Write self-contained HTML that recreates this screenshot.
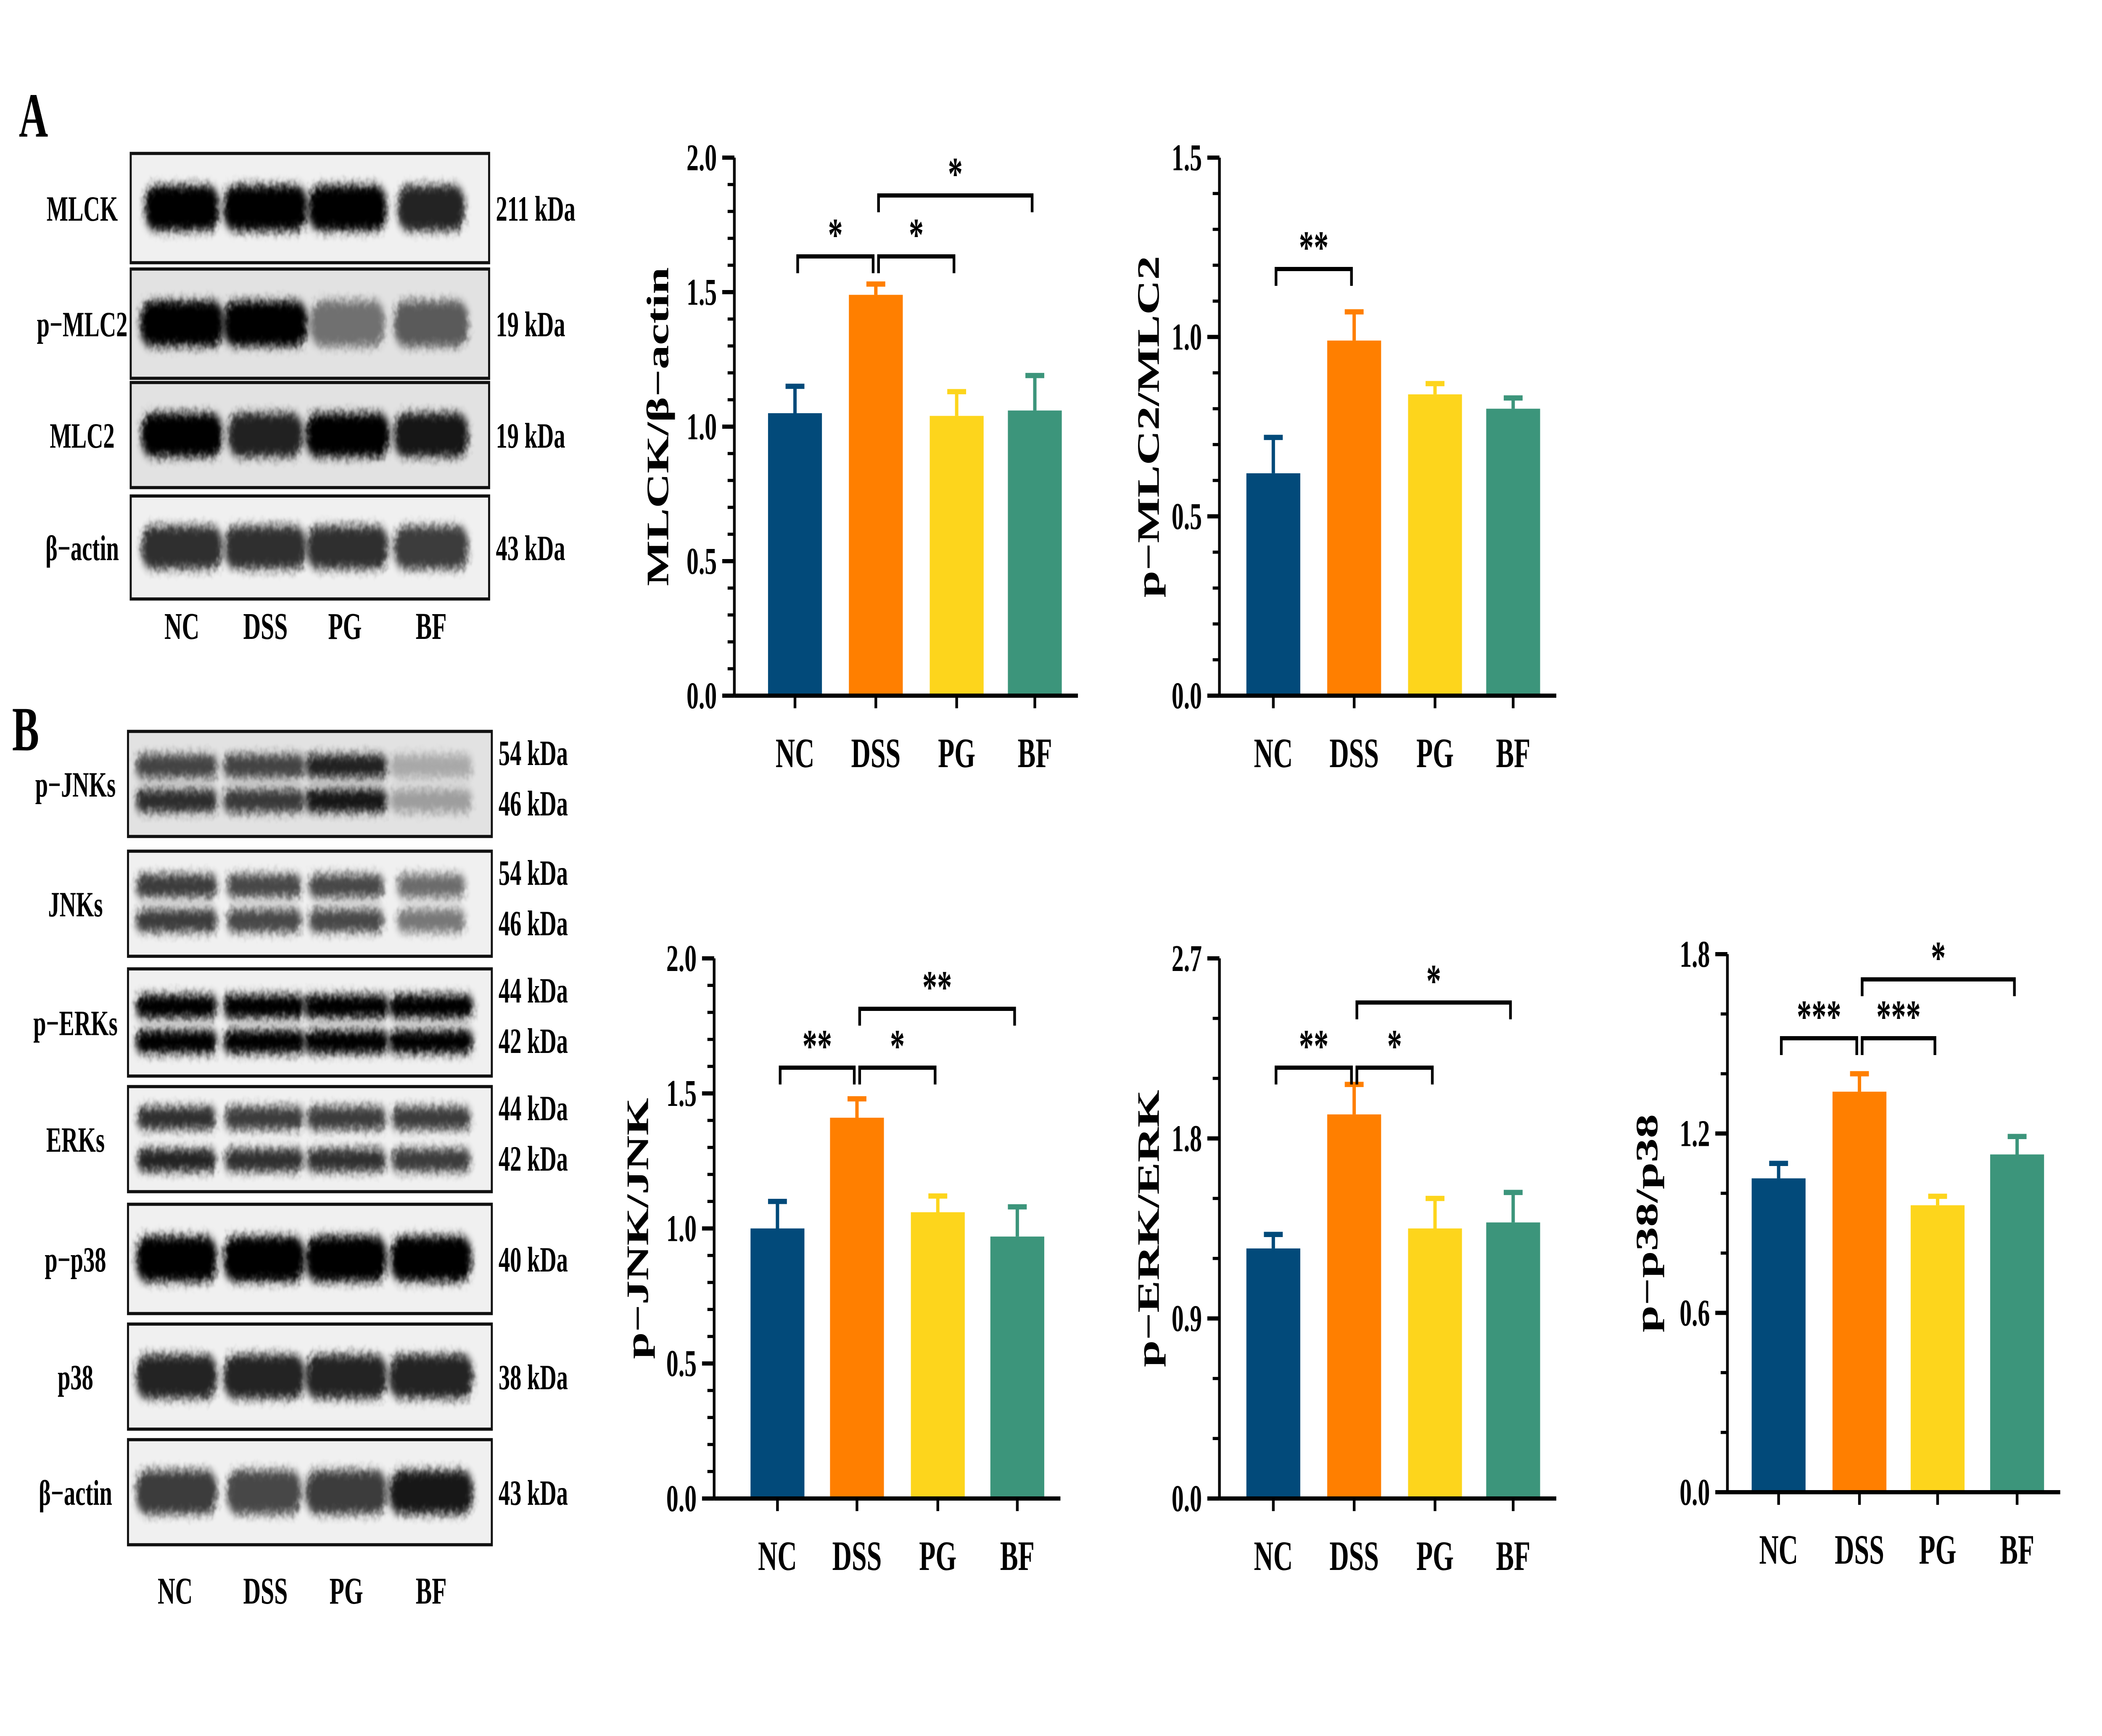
<!DOCTYPE html>
<html><head><meta charset="utf-8"><style>
html,body{margin:0;padding:0;background:#fff;width:100%;height:100%;overflow:hidden;}
svg{display:block;position:absolute;left:0;top:0;width:100vw;height:100vh;}
text{font-family:"Liberation Serif",serif;font-weight:bold;fill:#000;}
</style></head><body>
<svg id="fig" xmlns="http://www.w3.org/2000/svg" viewBox="0 0 1560 826" preserveAspectRatio="none">
<defs><filter id="blur" x="-20%" y="-50%" width="140%" height="200%"><feTurbulence type="fractalNoise" baseFrequency="0.3" numOctaves="2" result="n"/><feGaussianBlur in="SourceGraphic" stdDeviation="2.2" result="b"/><feDisplacementMap in="b" in2="n" scale="4"/></filter></defs>
<text x="14" y="65" font-size="30">A</text>
<text x="9" y="357" font-size="30">B</text>
<g id="blots"></g>
<g id="charts"></g>
</svg>
<script>
const categories = ["NC","DSS","PG","BF"];
const colors = ["#024a7a","#ff7f00","#fdd51c","#3c957b"];
const mlckVals = [1.05,1.49,1.04,1.06];
const mlckErr = [0.10,0.04,0.09,0.13];
const pmlcVals = [0.62,0.99,0.84,0.80];
const pmlcErr = [0.10,0.08,0.03,0.03];
const jnkVals = [1.00,1.41,1.06,0.97];
const jnkErr = [0.10,0.07,0.06,0.11];
const erkVals = [1.25,1.92,1.35,1.38];
const erkErr = [0.07,0.15,0.15,0.15];
const p38Vals = [1.05,1.34,0.96,1.13];
const p38Err = [0.05,0.06,0.03,0.06];
const mlckTicks = [0,0.5,1.0,1.5,2.0];
const pmlcTicks = [0,0.5,1.0,1.5];
const jnkTicks = [0,0.5,1.0,1.5,2.0];
const erkTicks = [0,0.9,1.8,2.7];
const p38Ticks = [0,0.6,1.2,1.8];
const NS="http://www.w3.org/2000/svg";
function mk(tag,attrs,parent,txt){const e=document.createElementNS(NS,tag);for(const k in attrs)e.setAttribute(k,attrs[k]);if(txt!==undefined)e.textContent=txt;parent.appendChild(e);return e;}

const charts=[
 {id:"mlck",label:"MLCK/β−actin",vals:mlckVals,err:mlckErr,ticks:mlckTicks,dec:1,ax:545,y0:331,y1:75,xs:[590,650,710,768],minor:5,
  sig:[[0,1,122,"*"],[1,2,122,"*"],[1,3,93,"*"]],lx:488},
 {id:"pmlc2",label:"p−MLC2/MLC2",vals:pmlcVals,err:pmlcErr,ticks:pmlcTicks,dec:1,ax:905,y0:331,y1:75,xs:[945,1005,1065,1123],minor:5,
  sig:[[0,1,128,"**"]],lx:852},
 {id:"jnk",label:"p−JNK/JNK",vals:jnkVals,err:jnkErr,ticks:jnkTicks,dec:1,ax:530,y0:713,y1:456,xs:[577,636,696,755],minor:5,
  sig:[[0,1,508,"**"],[1,2,508,"*"],[1,3,480,"**"]],lx:473},
 {id:"erk",label:"p−ERK/ERK",vals:erkVals,err:erkErr,ticks:erkTicks,dec:1,ax:905,y0:713,y1:456,xs:[945,1005,1065,1123],minor:3,
  sig:[[0,1,508,"**"],[1,2,508,"*"],[1,3,477,"*"]],lx:852},
 {id:"p38",label:"p−p38/p38",vals:p38Vals,err:p38Err,ticks:p38Ticks,dec:1,ax:1282,y0:710,y1:454,xs:[1320,1380,1438,1497],minor:3,
  sig:[[0,1,494,"***"],[1,2,494,"***"],[1,3,466,"*"]],lx:1222}
];
const cg=document.getElementById("charts");
charts.forEach(c=>{
 const g=mk("g",{},cg);
 
 
 const max=c.ticks[c.ticks.length-1];
 const Y=v=>c.y0-(v/max)*(c.y0-c.y1);
 const bw=40;
 const xEnd=c.xs[3]+bw/2+12;
 c.vals.forEach((v,i)=>{
  const x=c.xs[i];
  const eb=mk("g",{},g);
  
  
  mk("line",{x1:x,x2:x,y1:Y(v),y2:Y(v+c.err[i]),stroke:colors[i],"stroke-width":2.5},eb);
  mk("line",{x1:x-7,x2:x+7,y1:Y(v+c.err[i]),y2:Y(v+c.err[i]),stroke:colors[i],"stroke-width":2.5},eb);
  const r=mk("rect",{x:x-bw/2,y:Y(v),width:bw,height:c.y0-Y(v),fill:colors[i]},g);
  
  
  const t=mk("text",{x:x,y:c.y0+34,"font-size":20,"text-anchor":"middle"},g,categories[i]);
  
  
 });
 const axg=mk("g",{},g);
 
 
 mk("line",{x1:c.ax,x2:c.ax,y1:c.y0,y2:c.y1,stroke:"#000","stroke-width":2},axg);
 const xa=mk("line",{x1:c.ax,x2:xEnd,y1:c.y0,y2:c.y0,stroke:"#000","stroke-width":2},g);
 
 
 c.xs.forEach(x=>mk("line",{x1:x,x2:x,y1:c.y0,y2:c.y0+6,stroke:"#000","stroke-width":2},g));
 c.ticks.forEach((t,i)=>{
  mk("line",{x1:c.ax-9,x2:c.ax,y1:Y(t),y2:Y(t),stroke:"#000","stroke-width":2},axg);
  const tl=mk("text",{x:c.ax-13,y:Y(t)+6,"font-size":18,"text-anchor":"end"},axg,t.toFixed(c.dec));
  
  
  if(i<c.ticks.length-1){
   const step=(c.ticks[i+1]-t)/c.minor;
   for(let k=1;k<c.minor;k++)mk("line",{x1:c.ax-5,x2:c.ax,y1:Y(t+k*step),y2:Y(t+k*step),stroke:"#000","stroke-width":1.5},axg);
  }
 });
 const yl=mk("text",{x:0,y:0,"font-size":23,"text-anchor":"middle",transform:"translate("+(c.lx+8)+","+((c.y0+c.y1)/2)+") rotate(-90)"},g,c.label);
 
 
 c.sig.forEach(s=>{
  const sg=mk("g",{},g);
  
  
  const a=c.xs[s[0]]+2,b=c.xs[s[1]]-2,y=s[2];
  mk("path",{d:"M"+a+" "+(y+8)+"V"+y+"H"+b+"V"+(y+8),fill:"none",stroke:"#000","stroke-width":2},sg);
  mk("text",{x:(a+b)/2,y:y-3,"font-size":22,"text-anchor":"middle"},sg,s[3]);
 });
});

const bg=document.getElementById("blots");
const blotsA=[
 {name:"MLCK",kda:["211 kDa"],y:73,h:52,bands:[[0.5,1,1.05,1,0.85]],w:[55,62,58,50]},
 {name:"p−MLC2",kda:["19 kDa"],y:128,h:52,bands:[[0.5,1,1,0.5,0.6]],w:[62,62,55,55],bg:1},
 {name:"MLC2",kda:["19 kDa"],y:182,h:50,bands:[[0.5,1,0.85,1.1,0.9]],w:[60,55,62,55],bg:1},
 {name:"β−actin",kda:["43 kDa"],y:236,h:49,bands:[[0.5,0.8,0.8,0.8,0.75]],w:[60,60,60,55]}
];
const blotsB=[
 {name:"p−JNKs",kda:["54 kDa","46 kDa"],y:348,h:50,bands:[[0.33,0.7,0.7,0.85,0.25],[0.66,0.8,0.75,0.9,0.3]],w:[60,60,60,60],bg:1},
 {name:"JNKs",kda:["54 kDa","46 kDa"],y:405,h:50,bands:[[0.33,0.75,0.7,0.7,0.55],[0.66,0.75,0.7,0.7,0.5]],w:[60,55,55,50]},
 {name:"p−ERKs",kda:["44 kDa","42 kDa"],y:461,h:51,bands:[[0.35,1,1,1,1],[0.68,1,1,1,1]],w:[60,60,62,62]},
 {name:"ERKs",kda:["44 kDa","42 kDa"],y:517,h:50,bands:[[0.3,0.8,0.75,0.75,0.75],[0.7,0.85,0.8,0.8,0.75]],w:[58,58,58,58]},
 {name:"p−p38",kda:["40 kDa"],y:573,h:52,bands:[[0.5,1,1,1,1]],w:[60,60,60,60]},
 {name:"p38",kda:["38 kDa"],y:630,h:50,bands:[[0.5,0.85,0.85,0.85,0.85]],w:[60,60,60,62]},
 {name:"β−actin",kda:["43 kDa"],y:685,h:50,bands:[[0.5,0.75,0.7,0.75,0.9]],w:[60,55,60,62]}
];
function drawBlots(list,x0,x1,lanes,labX){
 list.forEach(b=>{
  const g=mk("g",{},bg);
  
  
  mk("rect",{x:x0,y:b.y,width:x1-x0,height:b.h,fill:b.bg?"#e2e2e2":"#f0f0f0",stroke:"#111","stroke-width":1.5},g);
  const nb=b.bands.length;
  b.bands.forEach(bd=>{
   const cy=b.y+b.h*bd[0];
   const bh=nb>1?b.h*0.22:b.h*0.42;
   lanes.forEach((lx,i)=>{
    const o=bd[i+1];
    mk("rect",{x:lx-b.w[i]/2,y:cy-bh/2,width:b.w[i],height:bh,rx:bh/2.5,fill:"#000",opacity:Math.min(1,o),filter:"url(#blur)"},g);
   });
  });
  const t=mk("text",{x:labX,y:b.y+b.h/2+6,"font-size":17,"text-anchor":"middle"},g,b.name);
  
  
  b.kda.forEach((k,i)=>{
   const yy=b.kda.length>1?b.y+(i===0?16:40):b.y+b.h/2+6;
   const kt=mk("text",{x:x1+5,y:yy,"font-size":17},g,k);
   
   
  });
 });
}
drawBlots(blotsA,97,363,[135,197,258,320],61);
drawBlots(blotsB,95,365,[131,196,257,320],56);

const laneXA=[135,197,256,320];
const laneXB=[130,197,257,320];
categories.forEach((n,i)=>{
 const ta=mk("text",{x:laneXA[i],y:304,"font-size":18,"text-anchor":"middle"},bg,n);
 
 
 const tb=mk("text",{x:laneXB[i],y:763,"font-size":18,"text-anchor":"middle"},bg,n);
 
 
});
</script>
</body></html>
